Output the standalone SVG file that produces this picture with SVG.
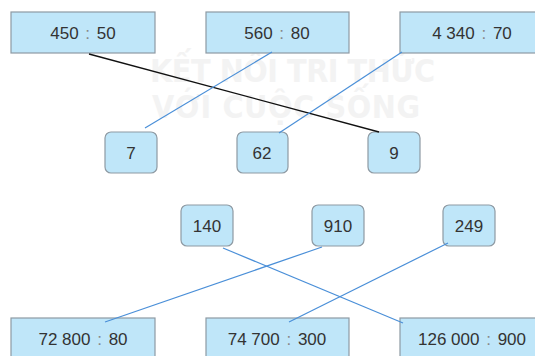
<svg xmlns="http://www.w3.org/2000/svg" width="535" height="356" viewBox="0 0 535 356">
  <style>
    .box { fill: #bfe6f9; stroke: #8e9aa3; stroke-width: 1.2; }
    .lbl { font-family: "Liberation Sans", Arial, sans-serif; font-size: 17px; fill: #333; text-anchor: middle; dominant-baseline: central; }
    .col { fill: #888; }
    .wm { font-family: "DejaVu Sans Condensed", "DejaVu Sans", sans-serif; font-weight: bold; font-size: 32px; fill: #f3f3f3; }
    .blue { stroke: #4a8fd8; stroke-width: 1.2; fill: none; }
    .black { stroke: #111; stroke-width: 1.3; fill: none; }
  </style>
  <rect width="535" height="356" fill="#fff"/>

  <!-- faint background publisher mark -->
  <g id="watermark">
    <text class="wm" x="150" y="82" textLength="285" lengthAdjust="spacing">KẾT NỐI TRI THỨC</text>
    <text class="wm" x="152" y="118" textLength="268" lengthAdjust="spacing">VỚI CUỘC SỐNG</text>
  </g>

  <!-- division expressions, top row -->
  <g id="e450"><rect class="box" x="11" y="12" width="144" height="41"/><text class="lbl" x="83" y="33">450 <tspan class="col" dx="2">:</tspan><tspan dx="2"> 50</tspan></text></g>
  <g id="e560"><rect class="box" x="206" y="12" width="143" height="41"/><text class="lbl" x="277" y="33">560 <tspan class="col" dx="2">:</tspan><tspan dx="2"> 80</tspan></text></g>
  <g id="e4340"><rect class="box" x="400" y="12" width="144" height="41"/><text class="lbl" x="472" y="33">4 340 <tspan class="col" dx="2">:</tspan><tspan dx="2"> 70</tspan></text></g>

  <!-- quotients, first set -->
  <g id="q7"><rect class="box" x="105" y="132" width="52" height="41" rx="6"/><text class="lbl" x="131" y="153">7</text></g>
  <g id="q62"><rect class="box" x="237" y="132" width="51" height="41" rx="6"/><text class="lbl" x="262" y="153">62</text></g>
  <g id="q9"><rect class="box" x="368" y="132" width="52" height="41" rx="6"/><text class="lbl" x="394" y="153">9</text></g>

  <!-- quotients, second set -->
  <g id="q140"><rect class="box" x="181" y="205" width="52" height="41" rx="6"/><text class="lbl" x="207" y="226">140</text></g>
  <g id="q910"><rect class="box" x="312" y="205" width="52" height="41" rx="6"/><text class="lbl" x="338" y="226">910</text></g>
  <g id="q249"><rect class="box" x="443" y="205" width="52" height="41" rx="6"/><text class="lbl" x="469" y="226">249</text></g>

  <!-- division expressions, bottom row -->
  <g id="e72800"><rect class="box" x="11" y="318" width="144" height="45"/><text class="lbl" x="83" y="339">72 800 <tspan class="col" dx="2">:</tspan><tspan dx="2"> 80</tspan></text></g>
  <g id="e74700"><rect class="box" x="206" y="318" width="143" height="45"/><text class="lbl" x="277" y="339">74 700 <tspan class="col" dx="2">:</tspan><tspan dx="2"> 300</tspan></text></g>
  <g id="e126000"><rect class="box" x="400" y="318" width="144" height="45"/><text class="lbl" x="472" y="339">126 000 <tspan class="col" dx="2">:</tspan><tspan dx="2"> 900</tspan></text></g>

  <!-- matching lines -->
  <g id="connectors">
    <line class="black" x1="89" y1="54" x2="379" y2="132"/>
    <line class="blue" x1="272" y1="52" x2="145" y2="128"/>
    <line class="blue" x1="402" y1="52" x2="279" y2="133"/>
    <line class="blue" x1="223" y1="248" x2="403" y2="323"/>
    <line class="blue" x1="322" y1="247" x2="105" y2="322"/>
    <line class="blue" x1="448" y1="243" x2="289" y2="322"/>
  </g>
</svg>
